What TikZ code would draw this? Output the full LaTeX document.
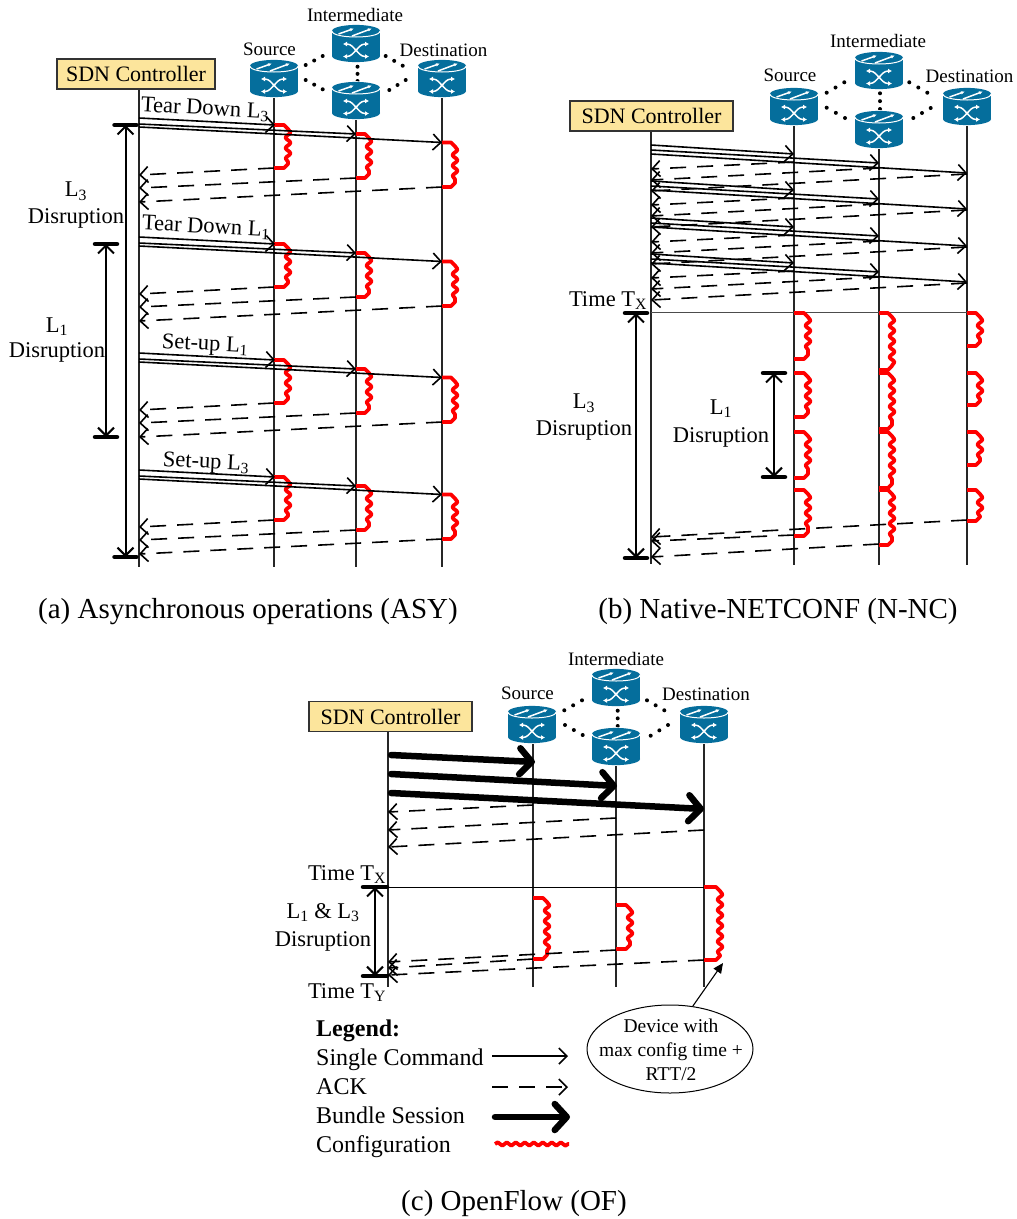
\documentclass[tikz,border=0pt]{standalone}
\usepackage{fontspec}
\setmainfont{Liberation Serif}
\usetikzlibrary{arrows.meta,decorations.pathmorphing,shapes.geometric,calc}
\definecolor{swblue}{HTML}{056E9C}
\definecolor{ctrlfill}{HTML}{FCE59C}
\tikzset{
  x=1pt,y=-1pt,
  life/.style={line width=1.2pt,black!85},
  openhead/.style={-{Straight Barb[length=8pt,width=16pt,line width=1.6pt]}},
  cmd/.style={line width=1.6pt,openhead},
  ack/.style={line width=1.6pt,dash pattern=on 16pt off 11pt,openhead},
  bundle/.style={line width=6.5pt,line cap=round,-{Straight Barb[length=12pt,width=26pt,line width=6.5pt,round]}},
  cfg/.style={red,line width=3.8pt,line join=round},
  spanarrow/.style={line width=2pt,{Straight Barb[length=8pt,width=16pt,line width=2pt]}-{Straight Barb[length=8pt,width=16pt,line width=2pt]}},
  capbar/.style={line width=4.5pt,line cap=round},
  ctrl/.style={draw=black!80,fill=ctrlfill,line width=1.1pt,font=\fontsize{22}{24}\selectfont,minimum width=#1,minimum height=30pt,inner sep=0pt},
  lbl/.style={font=\fontsize{22.5}{24}\selectfont,inner sep=0pt,yshift=-2.3pt},
  lgd/.style={font=\fontsize{24}{26}\selectfont,inner sep=0pt,anchor=base west},
  swl/.style={font=\fontsize{19}{21}\selectfont,inner sep=0pt},
  captext/.style={font=\fontsize{29}{31}\selectfont,inner sep=0pt,yshift=-2pt},
  switchpic/.pic={
    \fill[white] (-24.8,-13) rectangle (24.8,12);
    \fill[white] (0,-13) ellipse[x radius=24.8,y radius=6.8];
    \fill[white] (0,12) ellipse[x radius=24.8,y radius=6.8];
    \fill[swblue] (0,-13) ellipse[x radius=24,y radius=6.1];
    \fill[swblue] (-24,-13) rectangle (24,12);
    \fill[swblue] (0,12) ellipse[x radius=24,y radius=6.1];
    \draw[white,line width=1pt] (-24,-13) .. controls (-24,-5) and (24,-5) .. (24,-13);
    \draw[white,line width=1.5pt,-{Latex[length=4pt,width=3.5pt]}] (-17.5,-10) -- (-2,-15.5);
    \draw[white,line width=1.5pt,-{Latex[length=4pt,width=3.5pt]}] (-4,-8) -- (16,-15.5);
    \draw[white,line width=1.5pt,{Latex[length=4pt,width=5pt]}-{Latex[length=4pt,width=5pt]},rounded corners=3pt] (-13,0) -- (-6,0) -- (6,12.5) -- (13,12.5);
    \draw[white,line width=1.5pt,{Latex[length=4pt,width=5pt]}-{Latex[length=4pt,width=5pt]},rounded corners=3pt] (-13,12.5) -- (-6,12.5) -- (6,0) -- (13,0);
  }
}
% a message between two named end points
\newcommand\msgline[6]{% style, name, x1,y1,x2,y2
  \coordinate (#2s) at (#3,#4);
  \coordinate (#2e) at (#5,#6);
  \draw[#1] (#2s) -- (#2e);}
% a configuration bracket on a life line
\newcommand\cfgmark[5]{% name, x, y1, y2, width
  \coordinate (#1t) at (#2,#3);
  \coordinate (#1b) at (#2,#4);
  \draw[cfg] (#1t) -- ++(#5-7,0) -- ++(4,4)
    decorate[decoration={snake,amplitude=2.4pt,segment length=10.5pt}]{-- ($(#1b)+(#5-3,-4)$)}
    -- ++(-4,4) -- (#1b);}
\newcommand\spanmark[5]{% name, x, y1, y2, half width
  \coordinate (#1t) at (#2,#3);
  \coordinate (#1b) at (#2,#4);
  \draw[capbar] ($(#1t)+(-#5,0)$) -- ($(#1t)+(#5,0)$);
  \draw[capbar] ($(#1b)+(-#5,0)$) -- ($(#1b)+(#5,0)$);
  \draw[spanarrow] (#1t) -- (#1b);}
% three dots of a link between two switches
\newcommand\tridots[4]{%
  \foreach \t in {0,0.5,1}{\fill ($(#1,#2)!\t!(#3,#4)$) circle[radius=2pt];}}
\begin{document}
\begin{tikzpicture}
\useasboundingbox (0,0) rectangle (1017,1219);
%% ---------- Panel (a)
\draw[life] (139,74) coordinate (alc) -- (139,567);
\draw[life] (274,79) -- (274,567);
\draw[life] (356,101) -- (356,567);
\draw[life] (442,79) -- (442,567);
\node[ctrl=158pt] (actrl) at (136,74) {SDN Controller};
\tridots{305.7}{65}{322.7}{56}
\tridots{305.7}{80}{322.7}{89.3}
\tridots{385.7}{56}{402.7}{65.7}
\tridots{389.3}{90}{405.7}{80}
\tridots{357.5}{66.7}{357.5}{81}
\pic at (274,79) {switchpic};
\pic at (356,44) {switchpic};
\pic at (356,101) {switchpic};
\pic at (442,79) {switchpic};
\node[swl] (asrc) at (269.5,49) {Source};
\node[swl] (aint) at (355,15) {Intermediate};
\node[swl] (adst) at (443.5,50) {Destination};
\foreach \n/\o in {1/0,2/119,3/235,4/352}{
  \cfgmark{ar\n a}{274}{125+\o}{168+\o}{17}
  \cfgmark{ar\n b}{356}{134+\o}{178+\o}{16}
  \cfgmark{ar\n c}{442}{142.5+\o}{187+\o}{16}
  \msgline{cmd}{ac\n a}{139}{118+\o}{275}{125+\o}
  \msgline{cmd}{ac\n b}{139}{124+\o}{356}{134+\o}
  \msgline{cmd}{ac\n c}{139}{127+\o}{442}{142.5+\o}
  \msgline{ack}{aa\n a}{274}{168+\o}{139}{175+\o}
  \msgline{ack}{aa\n b}{356}{178+\o}{139}{188+\o}
  \msgline{ack}{aa\n c}{442}{187+\o}{139}{202+\o}
}
\node[lbl,rotate=-3] (am1) at (205,107) {Tear Down L\textsubscript{3}};
\node[lbl,rotate=-3] (am2) at (206,225) {Tear Down L\textsubscript{1}};
\node[lbl,rotate=-3] (am3) at (205,343) {Set-up L\textsubscript{1}};
\node[lbl,rotate=-3] (am4) at (206,461) {Set-up L\textsubscript{3}};
\spanmark{as3}{125.5}{125}{557}{11}
\spanmark{as1}{106}{244}{437}{11}
\node[lbl] (al3) at (76,189) {L\textsubscript{3}};
\node[lbl] (ad3) at (76,216) {Disruption};
\node[lbl] (al1) at (57,324) {L\textsubscript{1}};
\node[lbl] (ad1) at (57,350) {Disruption};
\node[captext] (acap) at (248,610) {(a) Asynchronous operations (ASY)};
%% ---------- Panel (b)
\draw[life] (651,116) -- (651,564);
\draw[life] (794,107) -- (794,565);
\draw[life] (879,130) -- (879,565);
\draw[life] (967,107) -- (967,565);
\node[ctrl=163pt] (bctrl) at (651.5,116) {SDN Controller};
\tridots{826.7}{92.7}{844.3}{82.3}
\tridots{826.7}{107.7}{845}{118}
\tridots{909.3}{82.3}{927.3}{92.7}
\tridots{913.3}{118}{930.7}{108}
\tridots{880}{93.3}{880}{109}
\pic at (794,107) {switchpic};
\pic at (879,71) {switchpic};
\pic at (879,130) {switchpic};
\pic at (967,107) {switchpic};
\node[swl] (bsrc) at (790,75) {Source};
\node[swl] (bint) at (878,41) {Intermediate};
\node[swl] (bdst) at (969.5,76) {Destination};
\foreach \n/\o in {1/0,2/36,3/73,4/109}{
  \msgline{cmd}{bc\n a}{651}{145+\o}{794}{154+\o}
  \msgline{cmd}{bc\n b}{651}{150+\o}{879}{163+\o}
  \msgline{cmd}{bc\n c}{651}{154+\o}{967}{173+\o}
  \msgline{ack}{ba\n a}{794}{162+\o}{651}{169+\o}
  \msgline{ack}{ba\n b}{879}{168+\o}{651}{180+\o}
  \msgline{ack}{ba\n c}{967}{174+\o}{651}{191+\o}
}
\draw[line width=1pt,black!70] (651,312) coordinate (btx) -- (967,312) coordinate (btxe);
\node[lbl] (btlab) at (608,298.5) {Time T\textsubscript{X}};
\foreach \n/\ya/\yb/\yc/\yd/\ye/\yf in {1/313/359/313/370/313/346,2/373/417/373/429/373/405,3/432/478/432/488/432/465,4/490/536/490/545/490/521}{
  \cfgmark{br\n a}{794}{\ya}{\yb}{17}
  \cfgmark{br\n b}{879}{\yc}{\yd}{16}
  \cfgmark{br\n c}{967}{\ye}{\yf}{16}
}
\msgline{ack}{bza}{794}{535}{651}{541}
\msgline{ack}{bzb}{967}{520}{651}{537}
\msgline{ack}{bzc}{879}{544}{651}{557}
\spanmark{bs3}{636}{313}{558}{11}
\spanmark{bs1}{774}{373}{477}{11}
\node[lbl] (bl3) at (584,401) {L\textsubscript{3}};
\node[lbl] (bd3) at (584,428) {Disruption};
\node[lbl] (bl1) at (721,406) {L\textsubscript{1}};
\node[lbl] (bd1) at (721,435) {Disruption};
\node[captext] (bcap) at (778,610) {(b) Native-NETCONF (N-NC)};
%% ---------- Panel (c)
\draw[life] (388,716) -- (388,987);
\draw[life] (533,725) -- (533,987);
\draw[life] (616,747) -- (616,987);
\draw[life] (704,725) -- (704,987);
\node[ctrl=163pt] (cctrl) at (390.5,716.5) {SDN Controller};
\tridots{564.3}{710.3}{582}{700.3}
\tridots{565}{725}{582.7}{735}
\tridots{647}{700.3}{664.3}{710.3}
\tridots{650.7}{735.7}{668}{725}
\tridots{617.7}{710.7}{617.7}{726}
\pic at (532,725) {switchpic};
\pic at (616,688) {switchpic};
\pic at (616,747) {switchpic};
\pic at (704,725) {switchpic};
\node[swl] (csrc) at (527.5,693) {Source};
\node[swl] (cint) at (616,659) {Intermediate};
\node[swl] (cdst) at (706,694) {Destination};
\msgline{bundle}{cc1}{391}{755}{535}{762}
\msgline{bundle}{cc2}{391}{774}{617}{786}
\msgline{bundle}{cc3}{391}{793}{704}{809}
\msgline{ack}{ca1}{533}{805}{388}{812}
\msgline{ack}{ca2}{616}{818}{388}{830}
\msgline{ack}{ca3}{704}{830}{388}{847}
\draw[line width=1pt] (388,887) coordinate (ctx) -- (704,887) coordinate (ctxe);
\node[lbl] (ctlab) at (347,872.5) {Time T\textsubscript{X}};
\cfgmark{cra}{533}{898}{959}{17}
\cfgmark{crb}{616}{905}{949}{17}
\cfgmark{crc}{704}{887}{960}{19}
\msgline{ack}{cz1}{616}{950}{388}{962}
\msgline{ack}{cz2}{533}{959}{388}{968}
\msgline{ack}{cz3}{704}{960}{388}{975}
\spanmark{csp}{375}{887}{976}{12}
\node[lbl] (cl) at (323,910) {L\textsubscript{1} \& L\textsubscript{3}};
\node[lbl] (cd) at (323,939) {Disruption};
\node[lbl] (ctylab) at (347,990.5) {Time T\textsubscript{Y}};
\node[ellipse,draw,line width=1pt,minimum width=166pt,minimum height=88pt,inner sep=0pt] (call) at (670,1049) {};
\node[swl,align=center,font=\fontsize{19.5}{24}\selectfont] (calltxt) at (671,1050) {Device with\\max config time +\\RTT/2};
\coordinate (calltip) at (723,963);
\draw[line width=1.1pt,-{Triangle[length=10pt,width=9pt]}] (call.62) -- (calltip);
\node[lgd,font=\fontsize{24}{26}\selectfont\bfseries] (lg0) at (316,1036) {Legend:};
\node[lgd] (lg1) at (316,1065) {Single Command};
\node[lgd] (lg2) at (316,1094) {ACK};
\node[lgd] (lg3) at (316,1123) {Bundle Session};
\node[lgd] (lg4) at (316,1152) {Configuration};
\msgline{cmd}{lga}{492}{1056}{568}{1056}
\msgline{ack}{lgb}{492}{1087}{568}{1087}
\msgline{bundle}{lgc}{495}{1117}{570}{1117}
\coordinate (lgds) at (495,1144);
\coordinate (lgde) at (569,1144);
\draw[cfg,decorate,decoration={snake,amplitude=1.7pt,segment length=9pt}] (lgds) -- (lgde);
\node[captext] (ccap) at (514,1202) {(c) OpenFlow (OF)};
\end{tikzpicture}
\end{document}
